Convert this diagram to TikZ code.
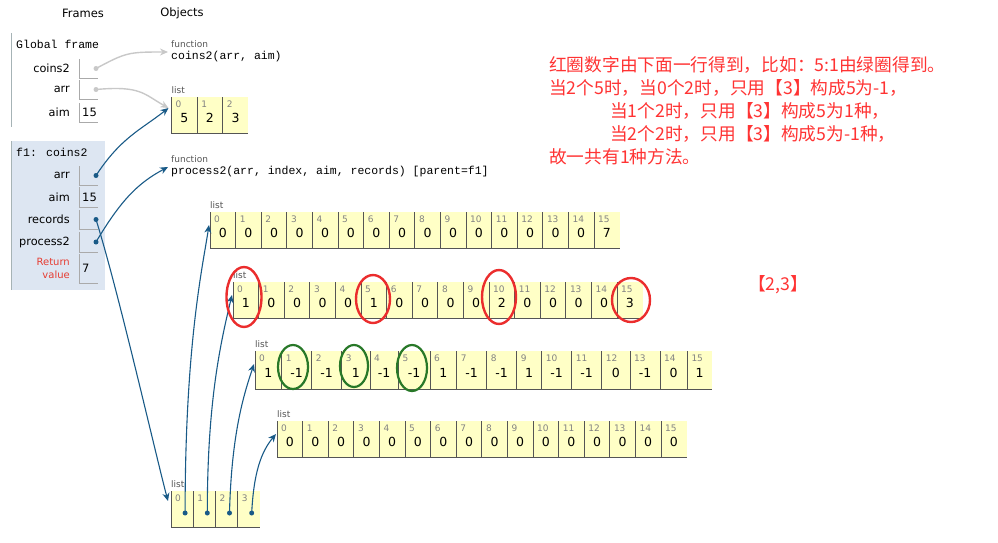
\documentclass[tikz,border=0pt]{standalone}
\usepackage{fontspec}
\setmainfont{DejaVu Sans}
\newfontfamily\codefont{Liberation Mono}
\newfontfamily\cjk{Noto Sans CJK SC}
\usepackage{xcolor}
\usetikzlibrary{arrows.meta, positioning, shapes.geometric, calc}
\definecolor{listyellow}{RGB}{255,255,198}
\definecolor{celldark}{RGB}{85,85,85}
\definecolor{idxgrey}{RGB}{130,130,130}
\definecolor{boxgrey}{RGB}{170,170,170}
\definecolor{barfgrey}{RGB}{166,179,182}
\definecolor{f1blue}{RGB}{221,230,242}
\definecolor{ptrblue}{RGB}{25,90,135}
\definecolor{ptrgrey}{RGB}{200,200,200}
\definecolor{retred}{RGB}{230,60,50}
\definecolor{notered}{RGB}{255,51,51}
\definecolor{ringred}{RGB}{235,45,45}
\definecolor{ringgreen}{RGB}{40,120,40}

\begin{document}
\begin{tikzpicture}[x=1pt, y=-1pt,
    head/.style={font=\fontsize{11.5}{13}\selectfont, inner sep=0pt},
    code/.style={font=\codefont\fontsize{11.5}{13}\selectfont, inner sep=0pt, anchor=west},
    tag/.style={font=\fontsize{9}{10}\selectfont, text=celldark, inner sep=0pt, anchor=south west},
    varname/.style={font=\fontsize{11.3}{13}\selectfont, inner sep=0pt, anchor=east},
    varval/.style={font=\fontsize{11.5}{13}\selectfont, inner sep=0pt, anchor=west},
    varbox/.style={rectangle, minimum width=19pt, inner sep=0pt, outer sep=0pt, anchor=north west},
    boxline/.style={draw=boxgrey, line width=0.8pt},
    framebar/.style={draw=barfgrey, line width=1pt},
    cell/.style={rectangle, fill=listyellow, minimum height=36pt, inner sep=0pt, outer sep=0pt, anchor=north west},
    cellline/.style={draw=celldark, line width=0.8pt},
    idx/.style={font=\fontsize{9}{10}\selectfont, text=idxgrey, inner sep=0pt, anchor=north west},
    val/.style={font=\fontsize{12.5}{14}\selectfont, inner sep=0pt},
    bdot/.style={circle, fill=ptrblue, inner sep=0pt, minimum size=5pt},
    gdot/.style={circle, fill=ptrgrey, inner sep=0pt, minimum size=5pt},
    ptr/.style={-{Stealth[length=8pt,width=7pt]}, draw=ptrblue, line width=1.1pt},
    gptr/.style={-{Stealth[length=8pt,width=7pt]}, draw=ptrgrey, line width=1.4pt},
    redring/.style={ellipse, draw=ringred, line width=2.4pt, inner sep=0pt},
    greenring/.style={ellipse, draw=ringgreen, line width=2.2pt, inner sep=0pt},
    note/.style={font=\cjk\fontsize{17.7}{20}\selectfont, text=notered, inner sep=0pt, anchor=west}
]
\useasboundingbox (0,0) rectangle (998,543);

% headers
\node[head] (hframes) at (83,13) {Frames};
\node[head] (hobjects) at (182,13) {Objects};

% global frame
\draw[framebar] (11,33) -- (11,127);
\node[code] (gtitle) at (16,44) {Global frame};
\foreach \n/\lab/\top/\h/\v in {gcoins/coins2/59/19/{}, garr/arr/80/19/{}, gaim/aim/103/19/15} {
  \node[varbox, minimum height=\h pt] (\n) at (79,\top) {};
  \draw[boxline] (\n.north west) -- (\n.south west) -- (\n.south east);
  \node[varname] (\n-lab) at ([xshift=-9pt]\n.west) {\lab};
  \node[varval] (\n-val) at ([xshift=3pt]\n.west) {\v};
}
\node[gdot] (gcoinsdot) at ([xshift=-2pt]gcoins.east) {};
\node[gdot] (garrdot) at ([xshift=-2pt]garr.east) {};

% frame f1
\node[rectangle, fill=f1blue, minimum width=94pt, minimum height=149pt, inner sep=0pt, anchor=north west] (f1bg) at (11,141) {};
\draw[framebar] (f1bg.north west) -- (f1bg.south west);
\node[code] (ftitle) at (16,152) {f1: coins2};
\foreach \n/\lab/\top/\h/\v in {farr/arr/166/19/{}, faim/aim/187/20/15, frec/records/210/19/{}, fproc/process2/232/20/{}, fret/{}/254/29/7} {
  \node[varbox, minimum height=\h pt] (\n) at (79,\top) {};
  \draw[boxline] (\n.north west) -- (\n.south west) -- (\n.south east);
  \node[varname] (\n-lab) at ([xshift=-9pt]\n.west) {\lab};
  \node[varval] (\n-val) at ([xshift=3pt]\n.west) {\v};
}
\node[varname, font=\fontsize{10}{13}\selectfont, text=retred, align=right] (fretlab) at ([xshift=-9pt]fret.west) {Return\\value};
\node[bdot] (farrdot) at ([xshift=-2pt]farr.east) {};
\node[bdot] (frecdot) at ([xshift=-2pt]frec.east) {};
\node[bdot] (fprocdot) at ([xshift=-2pt]fproc.east) {};

% function objects
\node[tag, anchor=west] (fn1tag) at (171,44) {function};
\node[code] (fn1) at (171,57) {coins2(arr, aim)};
\node[tag, anchor=west] (fn2tag) at (171,159) {function};
\node[code] (fn2) at (171,172) {process2(arr, index, aim, records) [parent=f1]};
\coordinate (fn1in) at (168,52);
\coordinate (fn2in) at (168,167);

% list arr
\node[tag] (l0tag) at (171.5,94) {list};
\foreach \v [count=\i from 0] in {5,2,3} {
  \node[cell, minimum width=25.6pt] (l0-\i) at ({171.5+25.6*\i},97) {};
  \draw[cellline] (l0-\i.north west) -- (l0-\i.south west) -- (l0-\i.south east);
  \node[idx] (l0-\i-i) at ([xshift=4pt,yshift=-4pt]l0-\i.north west) {\i};
  \node[val] (l0-\i-v) at ([yshift=-3pt]l0-\i.center) {\v};
}
\coordinate (l0in) at ([xshift=-3pt,yshift=-11pt]l0-0.north west);

% lists of sixteen
\foreach \n/\x/\y/\vals in {l1/210/212/{0,0,0,0,0,0,0,0,0,0,0,0,0,0,0,7}, l2/233/282/{1,0,0,0,0,1,0,0,0,0,2,0,0,0,0,3}, l4/277/421/{0,0,0,0,0,0,0,0,0,0,0,0,0,0,0,0}} {
  \node[tag] (\n tag) at (\x,\y-3) {list};
  \foreach \v [count=\i from 0] in \vals {
    \node[cell, minimum width=25.6pt] (\n-\i) at ({\x+25.6*\i},\y) {};
    \draw[cellline] (\n-\i.north west) -- (\n-\i.south west) -- (\n-\i.south east);
    \node[idx] (\n-\i-i) at ([xshift=4pt,yshift=-4pt]\n-\i.north west) {\i};
    \node[val] (\n-\i-v) at ([yshift=-3pt]\n-\i.center) {\v};
  }
  \coordinate (\n in) at ([xshift=-1pt,yshift=-13pt]\n-0.north west);
}

% list with -1 values
\node[tag] (l3tag) at (255,348) {list};
\foreach \v/\x/\w [count=\i from 0] in {1/255/26.7, -1/281.7/30, -1/311.7/30, 1/341.7/28.3, -1/370/28.3, -1/398.3/31.7, 1/430/26.7, -1/456.7/30, -1/486.7/30, 1/516.7/25, -1/541.7/30, -1/571.7/30, 0/601.7/28.3, -1/630/30, 0/660/27.3, 1/687.3/24.4} {
  \node[cell, minimum width=\w pt, minimum height=38pt] (l3-\i) at (\x,351) {};
  \draw[cellline] (l3-\i.north west) -- (l3-\i.south west) -- (l3-\i.south east);
  \node[idx] (l3-\i-i) at ([xshift=4pt,yshift=-4pt]l3-\i.north west) {\i};
  \node[val] (l3-\i-v) at ([yshift=-3pt]l3-\i.center) {\v};
}
\coordinate (l3in) at ([xshift=-1pt,yshift=-13pt]l3-0.north west);

% records list
\node[tag] (l5tag) at (171,488) {list};
\foreach \i in {0,1,2,3} {
  \node[cell, minimum width=22.2pt] (l5-\i) at ({171+22.2*\i},491) {};
  \draw[cellline] (l5-\i.north west) -- (l5-\i.south west) -- (l5-\i.south east);
  \node[idx] (l5-\i-i) at ([xshift=4pt,yshift=-4pt]l5-\i.north west) {\i};
  \node[bdot] (l5-\i-d) at ([xshift=3pt,yshift=-4pt]l5-\i.center) {};
}
\coordinate (l5in) at ([xshift=-3pt,yshift=-10pt]l5-0.north west);

% pointers
\draw[gptr] (gcoinsdot.center) .. controls +(30,-16) and +(-40,0) .. (fn1in);
\draw[gptr] (garrdot.center) .. controls +(45,-4) and +(-25,-14) .. (l0in);
\draw[ptr] (farrdot.center) .. controls +(25,-38) and +(-28,22) .. (l0in);
\draw[ptr] (fprocdot.center) .. controls +(25,-42) and +(-30,16) .. (fn2in);
\draw[ptr] (frecdot.center) .. controls +(22,70) and +(-12,-45) .. (l5in);
\draw[ptr] (l5-0-d.center) .. controls +(0,-170) and +(-6,40) .. (l1in);
\draw[ptr] (l5-1-d.center) .. controls +(0,-110) and +(-12,50) .. (l2in);
\draw[ptr] (l5-2-d.center) .. controls +(2,-80) and +(-10,30) .. (l3in);
\draw[ptr] (l5-3-d.center) .. controls +(2,-40) and +(-15,18) .. (l4in);

% rings
\node[redring, minimum width=35pt, minimum height=60pt] (ring0) at (244,297) {};
\node[redring, minimum width=34pt, minimum height=48pt] (ring5) at (373,299) {};
\node[redring, minimum width=34pt, minimum height=54pt] (ring10) at (499,297) {};
\node[redring, minimum width=38pt, minimum height=44pt] (ring15) at (631,300) {};
\node[greenring, minimum width=30pt, minimum height=44pt] (gring1) at (293,367) {};
\node[greenring, minimum width=28pt, minimum height=42pt] (gring3) at (354,366) {};
\node[greenring, minimum width=30pt, minimum height=46pt] (gring5) at (412,368) {};

% notes
\node[note] (note1) at (549,65) {红圈数字由下面一行得到，比如：5:1由绿圈得到。};
\node[note] (note2) at (549,88) {当2个5时，当0个2时，只用【3】构成5为-1，};
\node[note] (note3) at (610,111) {当1个2时，只用【3】构成5为1种，};
\node[note] (note4) at (610,134) {当2个2时，只用【3】构成5为-1种，};
\node[note] (note5) at (549,157) {故一共有1种方法。};
\node[note, anchor=center] (note6) at (778,285) {【2,3】};
\end{tikzpicture}
\end{document}
